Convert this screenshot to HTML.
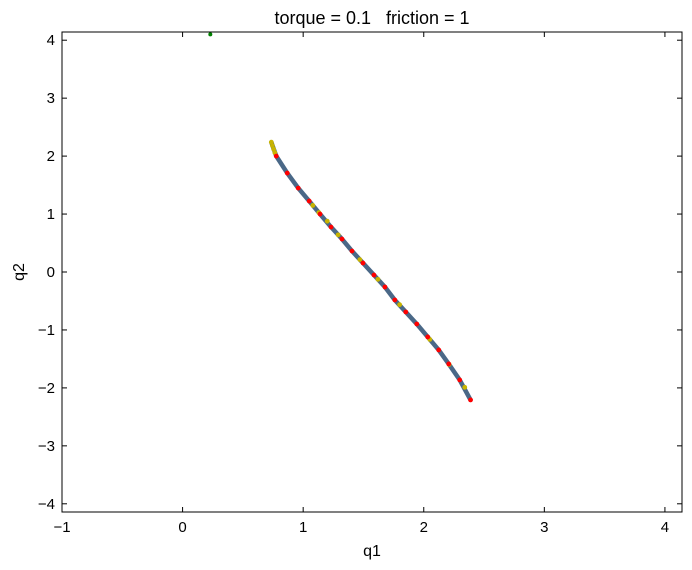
<!DOCTYPE html>
<html><head><meta charset="utf-8"><style>
body{margin:0;background:#fff;font-family:"Liberation Sans",sans-serif;overflow:hidden}
svg text{font-family:"Liberation Sans",sans-serif;fill:#000}
</style></head><body>
<svg id="c" width="692" height="570" style="display:block"></svg>
<script>
const redQ1=[0.777,0.868,0.959,1.050,1.140,1.231,1.322,1.405,1.496,1.587,1.678,1.760,1.851,1.942,2.033,2.124,2.207,2.298,2.388];
const redQ2=[2.0,1.707,1.448,1.224,1.0,0.776,0.569,0.362,0.155,-0.052,-0.259,-0.483,-0.690,-0.897,-1.121,-1.345,-1.586,-1.862,-2.207];
const yellowQ1=[0.736,0.745,0.755,0.765,1.08,1.13,1.2,1.29,1.47,1.62,1.8,2.05,2.21,2.34];
const yellowQ2=[2.24,2.18,2.12,2.06,1.149,1.025,0.877,0.641,0.214,-0.127,-0.564,-1.163,-1.594,-1.99];
const greenQ1=[0.23];
const greenQ2=[4.1];
const xTicks=[-1,0,1,2,3,4];
const yTicks=[-4,-3,-2,-1,0,1,2,3,4];
const L=62,R=682,T=32,B=512,XMIN=-1,XMAX=4.1416,YMIN=-4.1416,YMAX=4.1416;
const sx=v=>L+(v-XMIN)/(XMAX-XMIN)*(R-L);
const sy=v=>B-(v-YMIN)/(YMAX-YMIN)*(B-T);
const svg=document.getElementById('c');const NS='http://www.w3.org/2000/svg';
function mk(t,a,p){const e=document.createElementNS(NS,t);for(const k in a)e.setAttribute(k,a[k]);(p||svg).appendChild(e);return e;}
const fmt=v=>(v<0?'\u2212'+(-v):String(v));
let d='M'+sx(yellowQ1[0])+' '+sy(yellowQ2[0]);
for(let i=0;i<redQ1.length;i++)d+=' L'+sx(redQ1[i])+' '+sy(redQ2[i]);
const cur=mk('path',{d:d,fill:'none',stroke:'#4a6887','stroke-width':4.5,'stroke-linejoin':'round','stroke-linecap':'round'});


for(let i=0;i<yellowQ1.length;i++){const c=mk('circle',{cx:sx(yellowQ1[i]),cy:sy(yellowQ2[i]),r:2.4,fill:'#c8b400'});

}
for(let i=0;i<redQ1.length;i++){const c=mk('circle',{cx:sx(redQ1[i]),cy:sy(redQ2[i]),r:2.4,fill:'#ff0000'});

}
for(let i=0;i<greenQ1.length;i++){const c=mk('circle',{cx:sx(greenQ1[i]),cy:sy(greenQ2[i]),r:2,fill:'#008000'});

}
const fr=mk('rect',{x:L,y:T,width:R-L,height:B-T,fill:'none',stroke:'#000','stroke-width':1});


xTicks.forEach(v=>{const x=sx(v);mk('line',{x1:x,x2:x,y1:B,y2:B-5,stroke:'#000'});mk('line',{x1:x,x2:x,y1:T,y2:T+5,stroke:'#000'});
const t=mk('text',{x:x,y:B+20,'text-anchor':'middle','font-size':15});t.textContent=fmt(v);

});
yTicks.forEach(v=>{const y=sy(v);mk('line',{x1:L,x2:L+5,y1:y,y2:y,stroke:'#000'});mk('line',{x1:R,x2:R-5,y1:y,y2:y,stroke:'#000'});
const t=mk('text',{x:L-7,y:y+5,'text-anchor':'end','font-size':15});t.textContent=fmt(v);

});
const tt=mk('text',{x:372,y:24,'text-anchor':'middle','font-size':18});tt.textContent='torque = 0.1   friction = 1';tt.setAttribute('xml:space','preserve');tt.style.whiteSpace='pre';


const xt=mk('text',{x:372,y:556,'text-anchor':'middle','font-size':16});xt.textContent='q1';


const yt=mk('text',{x:24,y:272,'text-anchor':'middle','font-size':16,transform:'rotate(-90 24 272)'});yt.textContent='q2';


</script>
</body></html>
